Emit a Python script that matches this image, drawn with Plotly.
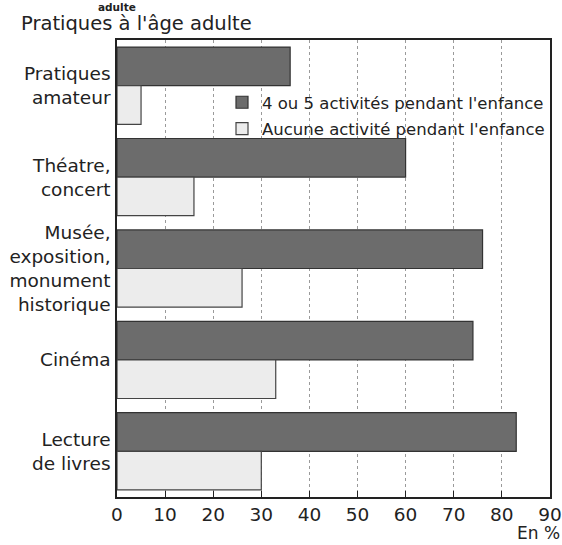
import plotly.graph_objects as go

categories = ["Pratiques<br>amateur", "Théatre,<br>concert", "Musée,<br>exposition,<br>monument<br>historique",
              "Cinéma", "Lecture<br>de livres"]
series_names = ["4 ou 5 activités pendant l'enfance", "Aucune activité pendant l'enfance"]
values_4_5 = [36, 60, 76, 74, 83]
values_aucune = [5, 16, 26, 33, 30]
x_ticks = [0, 10, 20, 30, 40, 50, 60, 70, 80, 90]

FONT = "DejaVu Sans"
TXT = "#222222"

L, R, T, B = 117, 12, 40, 48
W, H = 562, 545
PW, PH = W - L - R, H - T - B

fig = go.Figure()
fig.add_trace(go.Bar(y=categories, x=values_4_5, orientation="h", name=series_names[0],
                     legendgroup="a",
                     marker=dict(color="#6c6c6c", line=dict(color="#333333", width=1.2))))
fig.add_trace(go.Bar(y=categories, x=values_aucune, orientation="h", name=series_names[1],
                     legendgroup="b",
                     marker=dict(color="#ececec", line=dict(color="#444444", width=1.2))))

fig.update_layout(
    width=W, height=H,
    margin=dict(l=L, r=R, t=T, b=B, autoexpand=False),
    paper_bgcolor="white", plot_bgcolor="white",
    barmode="group", bargap=0.155, bargroupgap=0,
    font=dict(family=FONT, color=TXT),
    showlegend=True,
    legend=dict(x=(222 - L) / PW, y=1 - (85 - T) / PH, xanchor="left", yanchor="top",
                bgcolor="rgba(255,255,255,0)", font=dict(size=16.5, color=TXT),
                itemwidth=30, tracegroupgap=2),
    xaxis=dict(range=[0, 90.02], tickvals=x_ticks, ticktext=[str(v) for v in x_ticks],
               automargin=False, ticklabeloverflow="allow",
               showgrid=True, gridcolor="#9a9a9a", griddash="dot", gridwidth=1,
               ticks="inside", ticklen=6, tickcolor="#222", tickfont=dict(size=18.5, color=TXT),
               showline=True, linecolor="#222", linewidth=1.5, mirror=True, zeroline=False),
    yaxis=dict(autorange="reversed", showgrid=False, ticks="", tickfont=dict(size=18.5, color=TXT),
               automargin=False,
               showline=True, linecolor="#222", linewidth=1.5, mirror=True, ticklabelstandoff=1),
    annotations=[
        dict(text="<b>adulte</b>", xref="paper", yref="paper", x=(117 - L) / PW, y=1 + T / PH,
             xanchor="center", yanchor="top", showarrow=False, font=dict(size=10.5, color=TXT),
             borderpad=0),
        dict(text="Pratiques à l'âge adulte", xref="paper", yref="paper", x=(20 - L) / PW,
             y=1 + (T - 36) / PH,
             xanchor="left", yanchor="bottom", showarrow=False, font=dict(size=19.5, color=TXT),
             borderpad=0),
        dict(text="En %", xref="paper", yref="paper", x=(W - 1 - L) / PW, y=-(H - T - PH - 1) / PH,
             xanchor="right", yanchor="bottom", showarrow=False, font=dict(size=17, color=TXT),
             borderpad=0),
    ],
)

fig.write_html("out.html", config={"displayModeBar": False},
               post_script="document.body.style.margin='0';document.body.style.overflow='hidden';")
